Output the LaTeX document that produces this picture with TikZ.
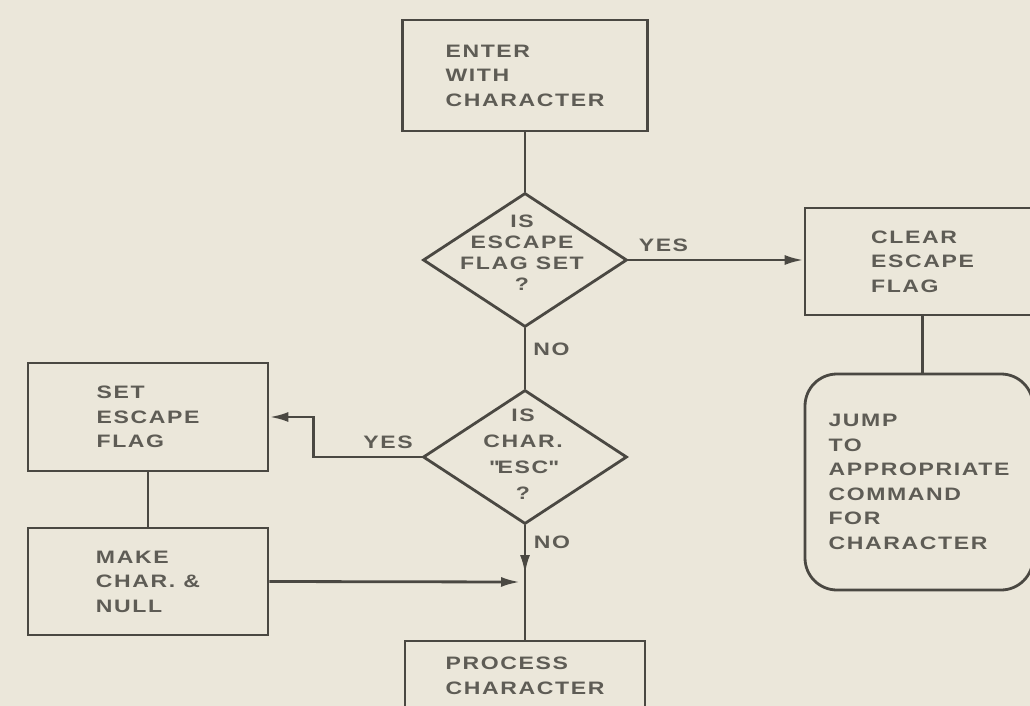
\documentclass[tikz,border=0pt]{standalone}
\usepackage{fontspec}
\setmainfont{Liberation Sans}[LetterSpace=9, FakeStretch=1.28]
\usetikzlibrary{shapes.geometric,arrows.meta,calc}
\definecolor{paper}{HTML}{EBE7DA}
\definecolor{ink}{HTML}{4A4842}
\definecolor{txtc}{HTML}{5E5C55}
\tikzset{
  line/.style={draw=ink, line width=2.8pt},
  arr/.style={line, -{Latex[length=19pt,width=10pt]}},
  box/.style={line, rectangle, align=left, text=txtc, inner sep=0pt,
     font=\bfseries\fontsize{18}{24.5}\selectfont},
  rbox/.style={box, rounded corners=32pt},
  decision/.style={line, diamond, inner sep=0pt, minimum width=204pt, minimum height=134pt},
  dtxt/.style={align=center, text=txtc, inner sep=0pt},
  lbl/.style={text=txtc, inner sep=0pt, font=\bfseries\fontsize{18}{20}\selectfont}
}
\begin{document}
\begin{tikzpicture}[x=1pt,y=-1pt]
\fill[paper] (0,0) rectangle (1030,706);
\useasboundingbox (0,0) rectangle (1030,706);
\clip (0,0) rectangle (1030,706);

\node[box, minimum width=245pt, minimum height=111pt] (enter) at (525,75.5) {ENTER\\WITH\\CHARACTER};
\node[decision] (d1) at (525,260) {};
\node[dtxt, font=\bfseries\fontsize{18}{21}\selectfont] (d1t) at (522,253) {IS\\ESCAPE\\FLAG SET\\?};
\node[box, minimum width=235pt, minimum height=107pt] (clear) at (922.5,261.5) {CLEAR\\ESCAPE\\FLAG};
\node[rbox, minimum width=228pt, minimum height=216pt] (jump) at (919,482) {JUMP\\TO\\APPROPRIATE\\COMMAND\\FOR\\CHARACTER};
\node[decision] (d2) at (525,457) {};
\node[dtxt, font=\bfseries\fontsize{18}{26}\selectfont] (d2t) at (523,454) {IS\\CHAR.\\\textquotedbl ESC\textquotedbl\\?};
\node[box, minimum width=240pt, minimum height=108pt] (set) at (148,417) {SET\\ESCAPE\\FLAG};
\node[box, minimum width=240pt, minimum height=107pt] (make) at (148,581.5) {MAKE\\CHAR. \&\\NULL};
\node[box, minimum width=240pt, minimum height=70pt] (proc) at (525,676) {PROCESS\\CHARACTER};

\coordinate (j) at (525,582);

\draw[line] (enter.south) -- (d1.north);
\draw[arr] (d1.east) -- (d1.east -| clear.west) node[lbl, pos=0.2, above=7pt] (yes1) {YES};
\draw[line] (clear.south) -- (clear.south |- jump.north);
\draw[line] (d1.south) -- (d2.north) node[lbl, pos=0.35, right=7pt] (no1) {NO};
\draw[arr] (d2.west) -| ($(set.east)+(44,0)$) -- (set.east);
\node[lbl] (yes2) at (388,442) {YES};
\draw[line] (set.south) -- (make.north);
\draw[line] (d2.south) -- (proc.north);
\draw[arr] (d2.south) -- ([yshift=8pt]j);
\node[lbl] (no2) at (552,542) {NO};
\draw[arr] (make.east) -- ([xshift=-5pt]j);
\end{tikzpicture}
\end{document}
